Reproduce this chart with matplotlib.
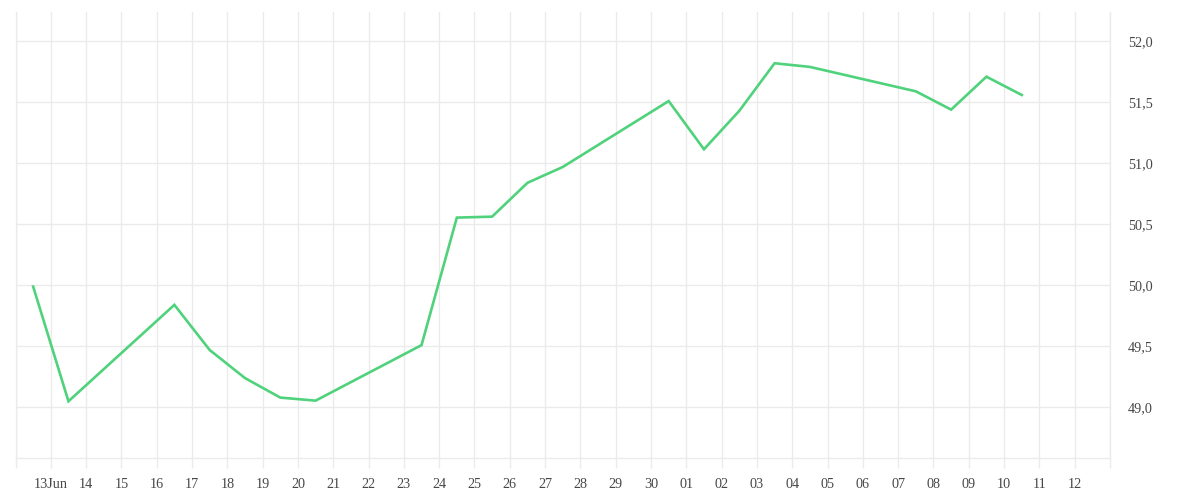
import matplotlib
matplotlib.use("Agg")
import matplotlib.pyplot as plt
import matplotlib.dates as mdates
import matplotlib.ticker as mticker
import pandas as pd

dates = ["2024-06-12 12:00", "2024-06-13 12:00", "2024-06-16 12:00", "2024-06-17 12:00",
         "2024-06-18 12:00", "2024-06-19 12:00", "2024-06-20 12:00", "2024-06-23 12:00",
         "2024-06-24 12:00", "2024-06-25 12:00", "2024-06-26 12:00", "2024-06-27 12:00",
         "2024-06-30 12:00", "2024-07-01 12:00", "2024-07-02 12:00", "2024-07-03 12:00",
         "2024-07-04 12:00", "2024-07-07 12:00", "2024-07-08 12:00", "2024-07-09 12:00",
         "2024-07-10 12:00"]
values = [49.99, 49.05, 49.84, 49.47, 49.24, 49.08, 49.055, 49.51,
          50.555, 50.563, 50.84, 50.97, 51.51, 51.115, 51.43, 51.82,
          51.79, 51.59, 51.44, 51.71, 51.56]
y_ticks = [49.0, 49.5, 50.0, 50.5, 51.0, 51.5, 52.0]

x = pd.to_datetime(dates)
tick_days = pd.date_range("2024-06-12", "2024-07-13", freq="D")
tick_labels = []
for d in tick_days:
    if d == pd.Timestamp("2024-06-13"):
        tick_labels.append("13Jun")
    elif d == tick_days[0] or d == tick_days[-1]:
        tick_labels.append("")
    else:
        tick_labels.append(d.strftime("%d"))

plt.rcParams['font.family'] = ['Liberation Serif', 'DejaVu Serif']

fig = plt.figure(figsize=(12, 5), dpi=100)
ax = fig.add_axes([15.5 / 1200, 42 / 500, (1110 - 15.5) / 1200, (458 - 12) / 500])

ax.plot(x, values, color="#4fd27b", linewidth=1.9, solid_joinstyle="miter")

ax.set_xlim(tick_days[0], tick_days[-1])
ax.set_ylim(48.585, 52.24)
ax.set_xticks(tick_days)
ax.set_xticklabels(tick_labels)
ax.set_yticks(y_ticks)
ax.yaxis.set_major_formatter(mticker.FuncFormatter(lambda v, p: f"{v:.1f}".replace(".", ",")))
ax.yaxis.tick_right()

grid_c = "#ebebeb"
ax.grid(True, color=grid_c, linewidth=1.0)
ax.set_axisbelow(True)
for s in ["left", "right", "bottom"]:
    ax.spines[s].set_color(grid_c)
    ax.spines[s].set_linewidth(1.0)
ax.spines["top"].set_visible(False)

ax.tick_params(axis="x", length=7.2, width=1.0, color=grid_c, pad=7, labelsize=10.2, labelcolor="#474747")
ax.tick_params(axis="y", length=0, pad=13, labelsize=10.2, labelcolor="#474747")

fig.savefig("out.png", dpi=100, facecolor="white")
